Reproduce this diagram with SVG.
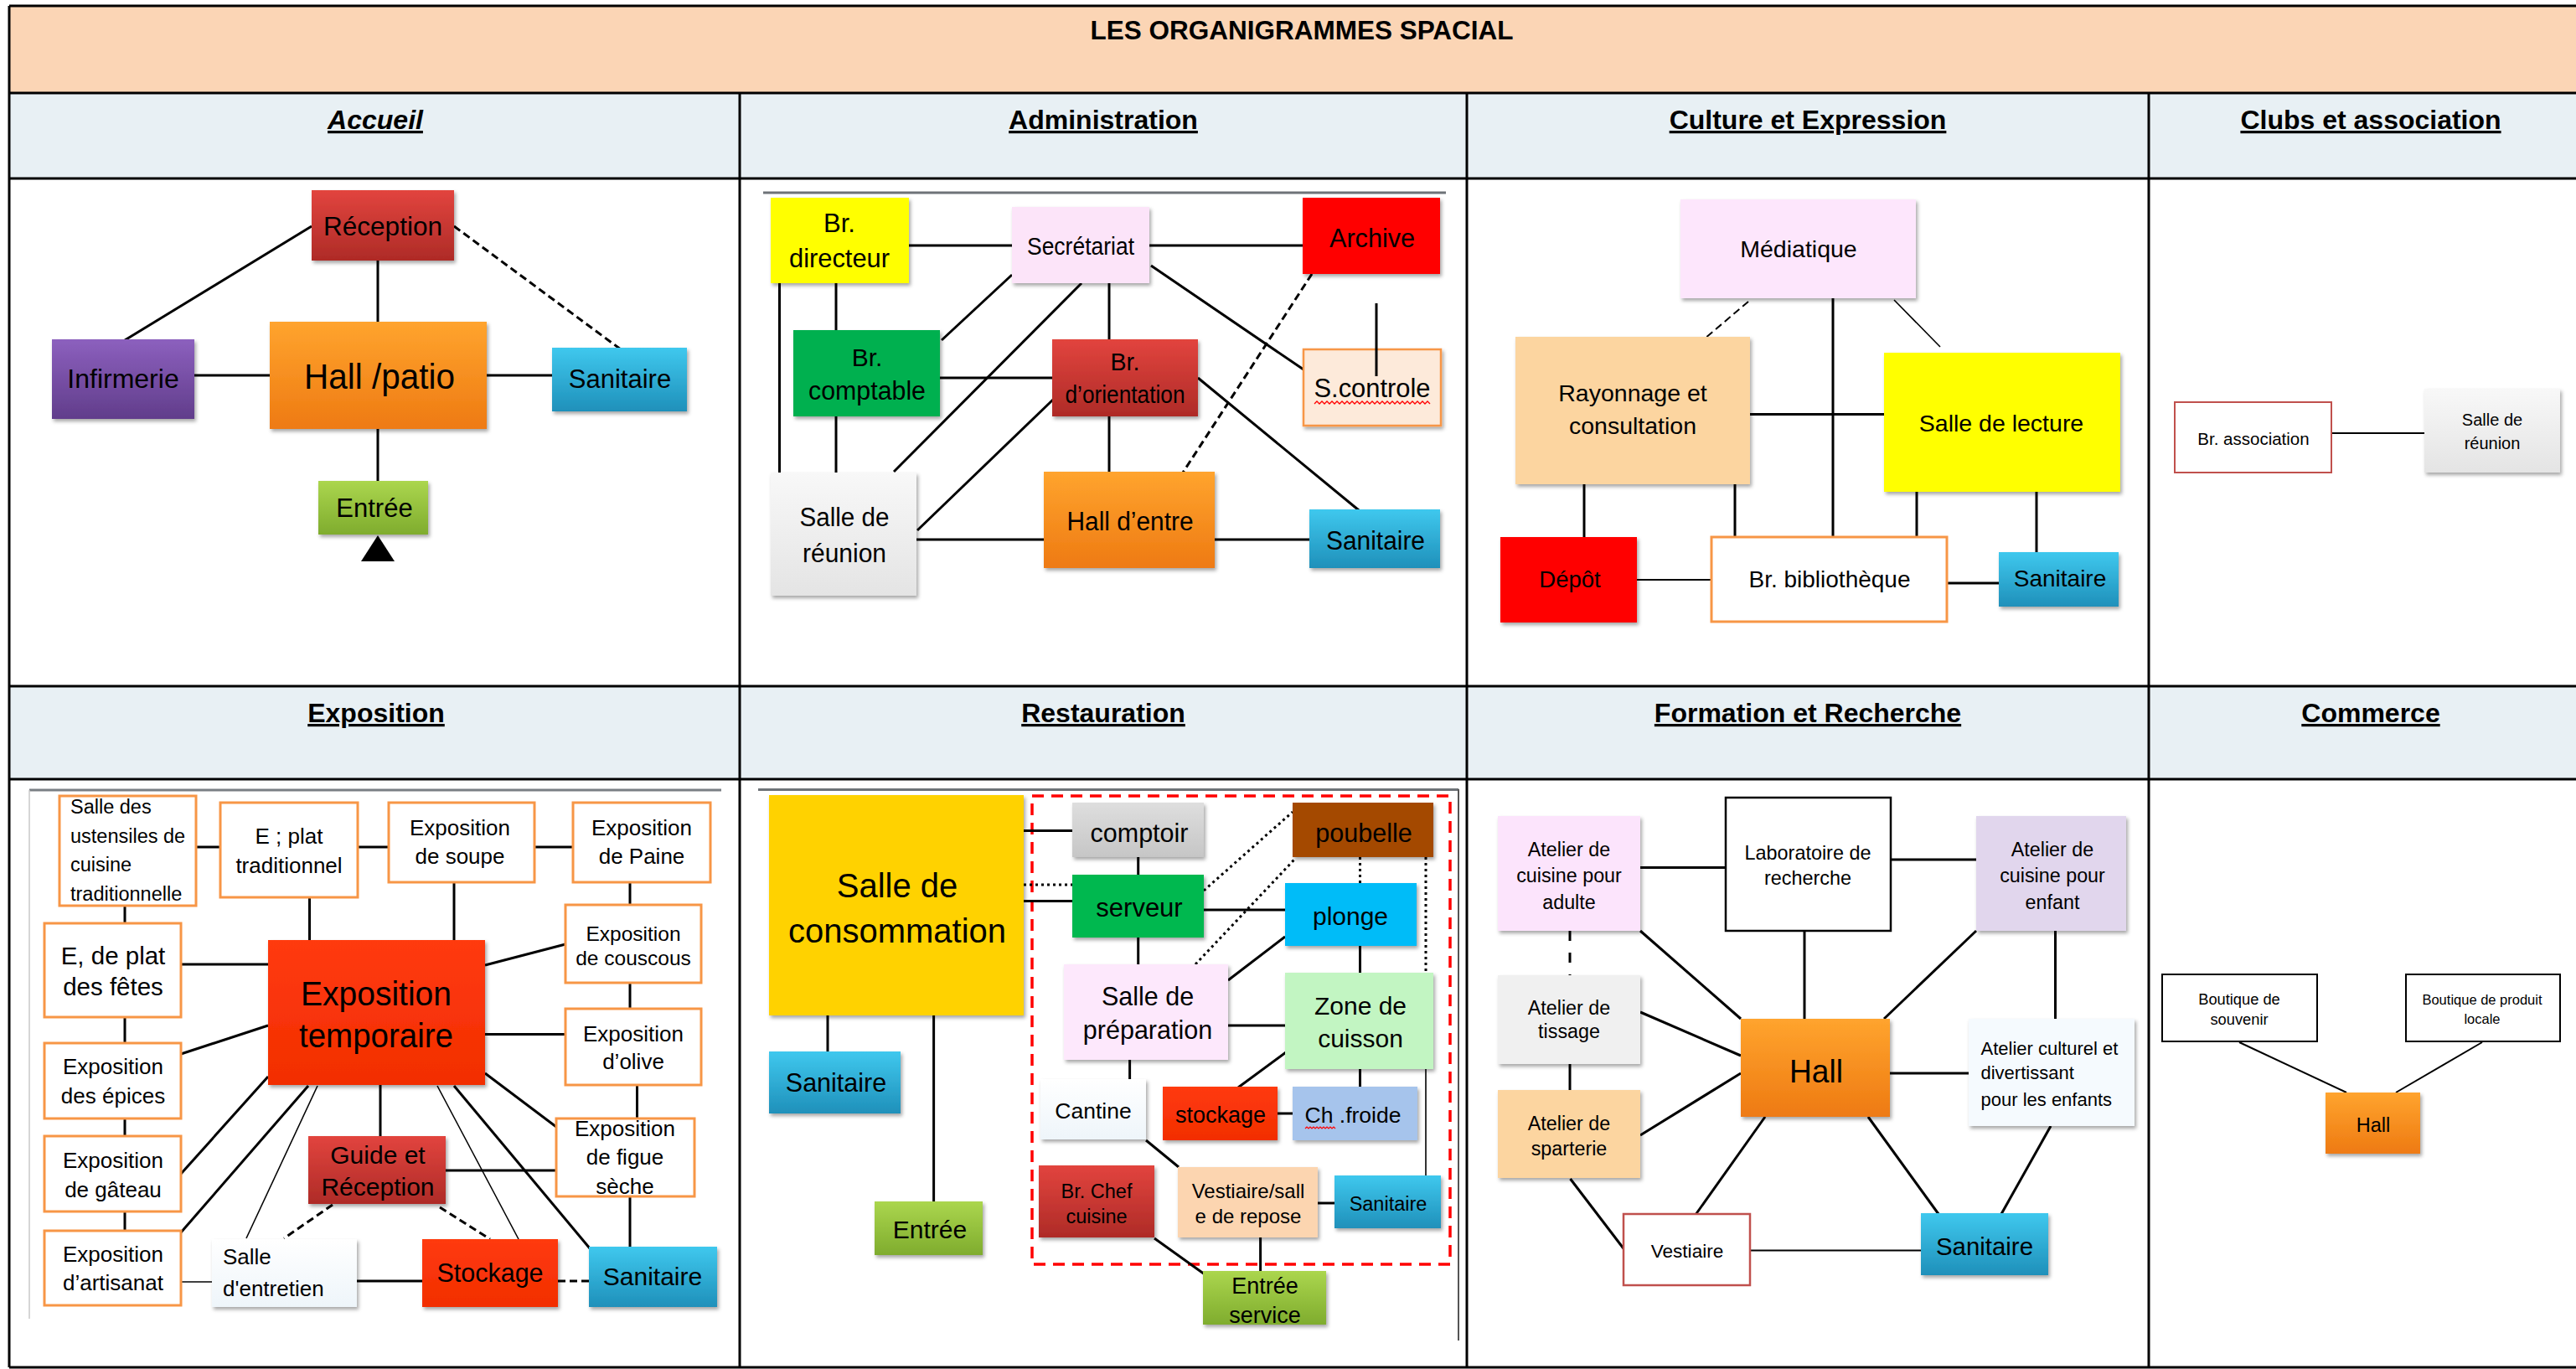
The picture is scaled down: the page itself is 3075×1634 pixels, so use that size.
<svg xmlns="http://www.w3.org/2000/svg" width="3075" height="1634" viewBox="0 0 3075 1634">
<defs>
<style>
text{font-family:'Liberation Sans',Arial,sans-serif;fill:#000;text-anchor:middle}
.hd{font-weight:bold;font-size:32px;text-decoration:underline}
.c{stroke:#000;stroke-width:3;fill:none;stroke-linecap:butt}
.th{stroke-width:1.6}
.da{stroke-dasharray:9 5}
.dt{stroke-dasharray:3 4;stroke-width:3}
.ob{fill:#fff;stroke:#F79646;stroke-width:3}
.grid{stroke:#000;stroke-width:3;fill:none}
.l{text-anchor:start}
</style>
<filter id="sh" x="-10%" y="-10%" width="125%" height="135%"><feDropShadow dx="2" dy="3" stdDeviation="2" flood-color="#000" flood-opacity="0.35"/></filter>
<linearGradient id="gRed" x1="0" y1="0" x2="0" y2="1"><stop offset="0" stop-color="#E2443E"/><stop offset="1" stop-color="#AE2B27"/></linearGradient>
<linearGradient id="gOr" x1="0" y1="0" x2="0" y2="1"><stop offset="0" stop-color="#FFA42E"/><stop offset="1" stop-color="#EE7A12"/></linearGradient>
<linearGradient id="gPu" x1="0" y1="0" x2="0" y2="1"><stop offset="0" stop-color="#8C60BE"/><stop offset="1" stop-color="#613D8B"/></linearGradient>
<linearGradient id="gBl" x1="0" y1="0" x2="0" y2="1"><stop offset="0" stop-color="#3FC8EE"/><stop offset="1" stop-color="#1F90BA"/></linearGradient>
<linearGradient id="gGr" x1="0" y1="0" x2="0" y2="1"><stop offset="0" stop-color="#ABD64E"/><stop offset="1" stop-color="#7FAC2E"/></linearGradient>
<linearGradient id="gGy" x1="0" y1="0" x2="0" y2="1"><stop offset="0" stop-color="#F8F8F8"/><stop offset="1" stop-color="#E4E4E4"/></linearGradient>
<linearGradient id="gGy2" x1="0" y1="0" x2="0" y2="1"><stop offset="0" stop-color="#DEDEDE"/><stop offset="1" stop-color="#C6C6C6"/></linearGradient>
<linearGradient id="gWh" x1="0" y1="0" x2="0" y2="1"><stop offset="0" stop-color="#FFFFFF"/><stop offset="1" stop-color="#EEF5FA"/></linearGradient>
<linearGradient id="gRd2" x1="0" y1="0" x2="0" y2="1"><stop offset="0" stop-color="#FF3A10"/><stop offset="1" stop-color="#F22E00"/></linearGradient>
</defs>

<!-- table -->
<g id="table">
<rect x="11" y="7" width="3090" height="104" fill="#FBD5B5"/>
<rect x="11" y="111" width="3090" height="102" fill="#E8F0F4"/>
<rect x="11" y="819" width="3090" height="111" fill="#E8F0F4"/>
<path class="grid" d="M11 7H3100M11 111H3100M11 213H3100M11 819H3100M11 930H3100M11 1632H3100M11 7V1632M883 111V1632M1751 111V1632M2565 111V1632"/>
<text x="1554" y="47" style="font-weight:bold;font-size:31.5px">LES ORGANIGRAMMES SPACIAL</text>
<text class="hd" x="448" y="154" style="font-style:italic">Accueil</text>
<text class="hd" x="1317" y="154">Administration</text>
<text class="hd" x="2158" y="154">Culture et Expression</text>
<text class="hd" x="2830" y="154">Clubs et association</text>
<text class="hd" x="449" y="862">Exposition</text>
<text class="hd" x="1317" y="862">Restauration</text>
<text class="hd" x="2158" y="862">Formation et Recherche</text>
<text class="hd" x="2830" y="862">Commerce</text>
</g>

<!-- connectors -->
<g id="connectors">
<!-- Accueil -->
<line class="c" x1="372" y1="270" x2="149" y2="406"/>
<line class="c" x1="451" y1="311" x2="451" y2="384"/>
<line class="c da" x1="542" y1="270" x2="741" y2="417"/>
<line class="c" x1="232" y1="448" x2="322" y2="448"/>
<line class="c" x1="581" y1="448" x2="659" y2="448"/>
<line class="c" x1="451" y1="512" x2="451" y2="574"/>
<polygon points="451,639 431,670 471,670" fill="#000"/>
<!-- Administration -->
<line x1="911" y1="230" x2="1726" y2="230" stroke="#6E7378" stroke-width="3"/>
<line class="c" x1="1085" y1="293" x2="1208" y2="293"/>
<line class="c" x1="1372" y1="293" x2="1555" y2="293"/>
<line class="c" x1="998" y1="338" x2="998" y2="394"/>
<line class="c" x1="930.5" y1="338" x2="930.5" y2="564"/>
<line class="c" x1="998" y1="497" x2="998" y2="564"/>
<line class="c" x1="1208" y1="328" x2="1124" y2="406"/>
<line class="c" x1="1291" y1="338" x2="1067" y2="563"/>
<line class="c" x1="1324" y1="338" x2="1324" y2="405"/>
<line class="c" x1="1374" y1="317" x2="1556" y2="441"/>
<line class="c" x1="1122" y1="451" x2="1256" y2="451"/>
<line class="c" x1="1257" y1="477" x2="1095" y2="633"/>
<line class="c" x1="1324" y1="497" x2="1324" y2="563"/>
<line class="c" x1="1430" y1="451" x2="1622" y2="609"/>
<line class="c da" x1="1566" y1="327" x2="1412" y2="564"/>
<line class="c" x1="1094" y1="644" x2="1246" y2="644"/>
<line class="c" x1="1450" y1="644" x2="1563" y2="644"/>
<!-- Culture -->
<line class="c da" x1="2087" y1="360" x2="2035" y2="404" style="stroke-width:2"/>
<line class="c" x1="2188" y1="356" x2="2188" y2="641"/>
<line class="c th" x1="2261" y1="358" x2="2316" y2="414"/>
<line class="c" x1="2089" y1="494.6" x2="2249" y2="494.6"/>
<line class="c" x1="1891" y1="578" x2="1891" y2="641"/>
<line class="c" x1="2071" y1="578" x2="2071" y2="641"/>
<line class="c" x1="2288" y1="587" x2="2288" y2="641"/>
<line class="c" x1="2431" y1="587" x2="2431" y2="659"/>
<line class="c" x1="1954" y1="692" x2="2043" y2="692" style="stroke-width:2"/>
<line class="c" x1="2324" y1="696" x2="2386" y2="696"/>
<!-- Clubs -->
<line class="c" x1="2783" y1="517" x2="2894" y2="517" style="stroke-width:2"/>
<!-- Exposition -->
<line x1="35" y1="943" x2="861" y2="943" stroke="#7A7F84" stroke-width="3"/>
<line x1="35" y1="943" x2="35" y2="1574" stroke="#C8C8C8" stroke-width="1.5"/>
<line class="c" x1="234" y1="1011" x2="263" y2="1011"/>
<line class="c" x1="427" y1="1011" x2="464" y2="1011"/>
<line class="c" x1="638" y1="1011" x2="684" y2="1011"/>
<line class="c" x1="369.5" y1="1071" x2="369.5" y2="1122"/>
<line class="c" x1="542" y1="1053" x2="542" y2="1122"/>
<line class="c" x1="752" y1="1053" x2="752" y2="1080"/>
<line class="c" x1="752" y1="1173" x2="752" y2="1204"/>
<line class="c" x1="760.5" y1="1295" x2="760.5" y2="1335"/>
<line class="c" x1="752" y1="1428" x2="752" y2="1488"/>
<line class="c" x1="149" y1="1081" x2="149" y2="1102"/>
<line class="c" x1="149" y1="1214" x2="149" y2="1245"/>
<line class="c" x1="149" y1="1335" x2="149" y2="1356"/>
<line class="c" x1="149" y1="1446" x2="149" y2="1469"/>
<line class="c" x1="216" y1="1151" x2="320" y2="1151"/>
<line class="c" x1="216" y1="1258" x2="320" y2="1224"/>
<line class="c" x1="216" y1="1401" x2="320" y2="1285"/>
<line class="c" x1="216" y1="1471" x2="368" y2="1296"/>
<line class="c th" x1="294" y1="1478" x2="379" y2="1296"/>
<line class="c" x1="454" y1="1295" x2="454" y2="1356"/>
<line class="c th" x1="522" y1="1296" x2="619" y2="1479"/>
<line class="c" x1="542" y1="1296" x2="704" y2="1490"/>
<line class="c" x1="579" y1="1281" x2="664" y2="1345"/>
<line class="c" x1="579" y1="1152" x2="675" y2="1127"/>
<line class="c" x1="579" y1="1234.6" x2="675" y2="1234.6"/>
<line class="c" x1="532" y1="1397" x2="664" y2="1397"/>
<line class="c da" x1="397" y1="1438" x2="339" y2="1478"/>
<line class="c da" x1="525" y1="1441" x2="585" y2="1479"/>
<line class="c th" x1="216" y1="1530" x2="253" y2="1530"/>
<line class="c" x1="426" y1="1529" x2="504" y2="1529"/>
<line class="c da" x1="666" y1="1529" x2="703" y2="1529"/>
<!-- Restauration -->
<line x1="905" y1="942.5" x2="1741" y2="942.5" stroke="#6E7378" stroke-width="3"/>
<line x1="1741" y1="942" x2="1741" y2="1600" stroke="#555" stroke-width="2"/>
<rect x="1232" y="950" width="499" height="559" fill="none" stroke="#FF0000" stroke-width="3.5" stroke-dasharray="14 9"/>
<line class="c" x1="1222" y1="991.5" x2="1280" y2="991.5"/>
<line class="c dt" x1="1222" y1="1056" x2="1280" y2="1056"/>
<line class="c" x1="1222" y1="1075.5" x2="1280" y2="1075.5"/>
<line class="c" x1="1358.7" y1="1023" x2="1358.7" y2="1044"/>
<line class="c" x1="1437" y1="1086" x2="1534" y2="1086"/>
<line class="c dt" x1="1437" y1="1063" x2="1543" y2="969"/>
<line class="c dt" x1="1427" y1="1151" x2="1545" y2="1026"/>
<line class="c" x1="1358.7" y1="1119" x2="1358.7" y2="1151"/>
<line class="c dt" x1="1623.5" y1="1023" x2="1623.5" y2="1054"/>
<line class="c dt" x1="1702" y1="1023" x2="1702" y2="1161"/>
<line class="c" x1="1466" y1="1170" x2="1534" y2="1118"/>
<line class="c" x1="1623.5" y1="1129" x2="1623.5" y2="1161"/>
<line class="c" x1="1466" y1="1224" x2="1534" y2="1224"/>
<line class="c" x1="1535" y1="1256" x2="1478" y2="1298"/>
<line class="c" x1="1623.5" y1="1276" x2="1623.5" y2="1297"/>
<line class="c" x1="1525" y1="1329" x2="1543" y2="1329"/>
<line class="c" x1="1348.6" y1="1265" x2="1348.6" y2="1288"/>
<line class="c th" x1="1702" y1="1276" x2="1702" y2="1403"/>
<line class="c" x1="1368" y1="1361" x2="1407" y2="1393"/>
<line class="c" x1="1573" y1="1436" x2="1593" y2="1436"/>
<line class="c" x1="1504.6" y1="1477" x2="1504.6" y2="1517"/>
<line class="c" x1="1378" y1="1478" x2="1438" y2="1521"/>
<line class="c" x1="988" y1="1212" x2="988" y2="1255"/>
<line class="c" x1="1114.6" y1="1212" x2="1114.6" y2="1434"/>
<!-- Formation -->
<line class="c" x1="1958" y1="1035.6" x2="2060" y2="1035.6"/>
<line class="c" x1="2257" y1="1026" x2="2359" y2="1026"/>
<line class="c" x1="2154" y1="1111" x2="2154" y2="1216"/>
<line class="c" x1="1958" y1="1111" x2="2078" y2="1216"/>
<line class="c" x1="2359" y1="1111" x2="2249" y2="1216"/>
<line class="c" x1="2453.5" y1="1111" x2="2453.5" y2="1216"/>
<line class="c da" x1="1874" y1="1111" x2="1874" y2="1164" style="stroke-dasharray:12 14"/>
<line class="c" x1="1874" y1="1270" x2="1874" y2="1301"/>
<line class="c" x1="1958" y1="1208" x2="2078" y2="1260"/>
<line class="c" x1="1958" y1="1355" x2="2078" y2="1281"/>
<line class="c" x1="2256" y1="1281" x2="2350" y2="1281"/>
<line class="c" x1="1874.5" y1="1407" x2="1939" y2="1491.5"/>
<line class="c" x1="2107" y1="1333" x2="2024.6" y2="1449"/>
<line class="c" x1="2230" y1="1333" x2="2314" y2="1449"/>
<line class="c" x1="2448" y1="1344" x2="2389" y2="1449"/>
<line class="c" x1="2089" y1="1492.5" x2="2293" y2="1492.5" style="stroke-width:2"/>
<!-- Commerce -->
<line class="c" x1="2673" y1="1244" x2="2801" y2="1304" style="stroke-width:2"/>
<line class="c" x1="2963" y1="1244" x2="2860" y2="1304" style="stroke-width:2"/>
</g>

<!-- Accueil nodes -->
<g id="acc-reception"><rect x="372" y="227" width="170" height="84" fill="url(#gRed)" filter="url(#sh)"/><text x="457" y="281" font-size="32" textLength="142" lengthAdjust="spacingAndGlyphs">Réception</text></g>
<g id="acc-hall"><rect x="322" y="384" width="259" height="128" fill="url(#gOr)" filter="url(#sh)"/><text x="453" y="464" font-size="42" textLength="180" lengthAdjust="spacingAndGlyphs">Hall /patio</text></g>
<g id="acc-infirmerie"><rect x="62" y="405" width="170" height="95" fill="url(#gPu)" filter="url(#sh)"/><text x="147" y="463" font-size="32">Infirmerie</text></g>
<g id="acc-sanitaire"><rect x="659" y="415" width="161" height="76" fill="url(#gBl)" filter="url(#sh)"/><text x="740" y="463" font-size="31">Sanitaire</text></g>
<g id="acc-entree"><rect x="380" y="574" width="131" height="64" fill="url(#gGr)" filter="url(#sh)"/><text x="447" y="617" font-size="31">Entrée</text></g>

<!-- Administration nodes -->
<g id="adm-directeur"><rect x="920" y="236" width="165" height="102" fill="#FFFF00" filter="url(#sh)"/><text x="1002" y="277" font-size="31">Br.</text><text x="1002" y="318.6" font-size="32" textLength="120" lengthAdjust="spacingAndGlyphs">directeur</text></g>
<g id="adm-secretariat"><rect x="1208" y="247" width="164" height="91" fill="#FCE4F9" filter="url(#sh)"/><text x="1290" y="303.6" font-size="30" textLength="128" lengthAdjust="spacingAndGlyphs">Secrétariat</text></g>
<g id="adm-archive"><rect x="1555" y="236" width="164" height="91" fill="#FF0000" filter="url(#sh)"/><text x="1638" y="295" font-size="31" textLength="102" lengthAdjust="spacingAndGlyphs">Archive</text></g>
<g id="adm-comptable"><rect x="947" y="394" width="175" height="103" fill="#00B050" filter="url(#sh)"/><text x="1035" y="436.5" font-size="30">Br.</text><text x="1035" y="477" font-size="31" textLength="140" lengthAdjust="spacingAndGlyphs">comptable</text></g>
<g id="adm-orientation"><rect x="1256" y="405" width="174" height="92" fill="url(#gRed)" filter="url(#sh)"/><text x="1343" y="442" font-size="29" textLength="35" lengthAdjust="spacingAndGlyphs">Br.</text><text x="1343" y="481" font-size="29" textLength="143" lengthAdjust="spacingAndGlyphs">d’orientation</text></g>
<g id="adm-controle"><rect x="1556" y="417" width="164" height="91" fill="#FDEADA" stroke="#F79646" stroke-width="2.5" filter="url(#sh)"/><text x="1638" y="473.6" font-size="31" textLength="139" lengthAdjust="spacingAndGlyphs">S.controle</text><path d="M1569 482 l3 -3 l3 3 l3 -3 l3 3 l3 -3 l3 3 l3 -3 l3 3 l3 -3 l3 3 l3 -3 l3 3 l3 -3 l3 3 l3 -3 l3 3 l3 -3 l3 3 l3 -3 l3 3 l3 -3 l3 3 l3 -3 l3 3 l3 -3 l3 3 l3 -3 l3 3 l3 -3 l3 3 l3 -3 l3 3 l3 -3 l3 3 l3 -3 l3 3 l3 -3 l3 3 l3 -3 l3 3 l3 -3 l3 3 l3 -3 l3 3 l3 -3 l3 3" fill="none" stroke="#FF0000" stroke-width="1.3"/><line x1="1643" y1="362" x2="1643" y2="449" stroke="#000" stroke-width="3"/></g>
<g id="adm-reunion"><rect x="920" y="564" width="174" height="147" fill="url(#gGy)" filter="url(#sh)"/><text x="1008" y="628" font-size="31" textLength="107" lengthAdjust="spacingAndGlyphs">Salle de</text><text x="1008" y="670.5" font-size="31" textLength="100" lengthAdjust="spacingAndGlyphs">réunion</text></g>
<g id="adm-hall"><rect x="1246" y="563" width="204" height="115" fill="url(#gOr)" filter="url(#sh)"/><text x="1349" y="633" font-size="31" textLength="151" lengthAdjust="spacingAndGlyphs">Hall d’entre</text></g>
<g id="adm-sanitaire"><rect x="1563" y="608" width="156" height="70" fill="url(#gBl)" filter="url(#sh)"/><text x="1642" y="655.5" font-size="31" textLength="118" lengthAdjust="spacingAndGlyphs">Sanitaire</text></g>

<!-- Culture nodes -->
<g id="cul-mediatique"><rect x="2006" y="238" width="281" height="118" fill="#FDE6FC" filter="url(#sh)"/><text x="2147" y="307" font-size="28.5">Médiatique</text></g>
<g id="cul-rayonnage"><rect x="1809" y="402" width="280" height="176" fill="#FCD5A0" filter="url(#sh)"/><text x="1949" y="479" font-size="28.5">Rayonnage et</text><text x="1949" y="518" font-size="28.5">consultation</text></g>
<g id="cul-lecture"><rect x="2249" y="421" width="282" height="166" fill="#FFFF00" filter="url(#sh)"/><text x="2389" y="515" font-size="28.5">Salle de lecture</text></g>
<g id="cul-depot"><rect x="1791" y="641" width="163" height="102" fill="#FF0000" filter="url(#sh)"/><text x="1874" y="701" font-size="27.5">Dépôt</text></g>
<g id="cul-bibliotheque"><rect x="2043" y="641" width="281" height="101" fill="#fff" stroke="#F79646" stroke-width="3"/><text x="2184" y="701" font-size="28">Br. bibliothèque</text></g>
<g id="cul-sanitaire"><rect x="2386" y="659" width="143" height="65" fill="url(#gBl)" filter="url(#sh)"/><text x="2459" y="700" font-size="28">Sanitaire</text></g>

<!-- Clubs nodes -->
<g id="clu-association"><rect x="2596" y="480" width="187" height="84" fill="#fff" stroke="#C0504D" stroke-width="2"/><text x="2690" y="531" font-size="20.5">Br. association</text></g>
<g id="clu-reunion"><rect x="2894" y="464" width="162" height="100" fill="url(#gGy)" filter="url(#sh)"/><text x="2975" y="508.4" font-size="20">Salle de</text><text x="2975" y="536" font-size="20">réunion</text></g>

<!-- Exposition nodes -->
<g id="exp-ustensiles"><rect class="ob" x="71" y="950" width="163" height="131"/><text class="l" x="84" y="971" font-size="23.5">Salle des</text><text class="l" x="84" y="1006" font-size="23.5">ustensiles de</text><text class="l" x="84" y="1040" font-size="23.5">cuisine</text><text class="l" x="84" y="1075" font-size="23.5">traditionnelle</text></g>
<g id="exp-plattrad"><rect class="ob" x="263" y="958" width="164" height="113"/><text x="345" y="1007" font-size="26">E ; plat</text><text x="345" y="1042" font-size="26">traditionnel</text></g>
<g id="exp-soupe"><rect class="ob" x="464" y="958" width="174" height="95"/><text x="549" y="997" font-size="26">Exposition</text><text x="549" y="1031" font-size="26">de soupe</text></g>
<g id="exp-paine"><rect class="ob" x="684" y="958" width="164" height="95"/><text x="766" y="997" font-size="26">Exposition</text><text x="766" y="1031" font-size="26">de Paine</text></g>
<g id="exp-couscous"><rect class="ob" x="675" y="1080" width="162" height="93"/><text x="756" y="1123" font-size="24.5">Exposition</text><text x="756" y="1152" font-size="24.5">de couscous</text></g>
<g id="exp-fetes"><rect class="ob" x="53" y="1102" width="163" height="112"/><text x="135" y="1151" font-size="29.5">E, de plat</text><text x="135" y="1188" font-size="29.5">des fêtes</text></g>
<g id="exp-temporaire"><rect x="320" y="1122" width="259" height="173" fill="url(#gRd2)" filter="url(#sh)"/><text x="449" y="1200" font-size="40" textLength="180" lengthAdjust="spacingAndGlyphs">Exposition</text><text x="449" y="1249.5" font-size="40" textLength="184" lengthAdjust="spacingAndGlyphs">temporaire</text></g>
<g id="exp-olive"><rect class="ob" x="675" y="1204" width="162" height="91"/><text x="756" y="1242.5" font-size="26">Exposition</text><text x="756" y="1276" font-size="26">d’olive</text></g>
<g id="exp-epices"><rect class="ob" x="53" y="1245" width="163" height="90"/><text x="135" y="1282" font-size="26">Exposition</text><text x="135" y="1317" font-size="26">des épices</text></g>
<g id="exp-gateau"><rect class="ob" x="53" y="1356" width="163" height="90"/><text x="135" y="1394" font-size="26">Exposition</text><text x="135" y="1429" font-size="26">de gâteau</text></g>
<g id="exp-artisanat"><rect class="ob" x="53" y="1469" width="163" height="89"/><text x="135" y="1506" font-size="26">Exposition</text><text x="135" y="1540" font-size="26">d’artisanat</text></g>
<g id="exp-figue"><rect class="ob" x="664" y="1335" width="165" height="93"/><text x="746" y="1356" font-size="26">Exposition</text><text x="746" y="1390" font-size="26">de figue</text><text x="746" y="1425" font-size="26">sèche</text></g>
<g id="exp-guide"><rect x="368" y="1356" width="164" height="81" fill="url(#gRed)" filter="url(#sh)"/><text x="451" y="1389" font-size="30">Guide et</text><text x="451" y="1426.6" font-size="30">Réception</text></g>
<g id="exp-entretien"><rect x="253" y="1479" width="173" height="81" fill="url(#gWh)" filter="url(#sh)"/><text class="l" x="266" y="1508.5" font-size="26">Salle</text><text class="l" x="266" y="1547" font-size="26">d'entretien</text></g>
<g id="exp-stockage"><rect x="504" y="1479" width="162" height="81" fill="url(#gRd2)" filter="url(#sh)"/><text x="585" y="1530" font-size="30.5">Stockage</text></g>
<g id="exp-sanitaire"><rect x="703" y="1488" width="153" height="72" fill="url(#gBl)" filter="url(#sh)"/><text x="779" y="1534" font-size="30">Sanitaire</text></g>

<!-- Restauration nodes -->
<g id="res-consommation"><rect x="918" y="949" width="304" height="263" fill="#FFD200" filter="url(#sh)"/><text x="1071" y="1071" font-size="40">Salle de</text><text x="1071" y="1124.5" font-size="40">consommation</text></g>
<g id="res-sanitaire1"><rect x="918" y="1255" width="157" height="74" fill="url(#gBl)" filter="url(#sh)"/><text x="998" y="1302.7" font-size="30.5">Sanitaire</text></g>
<g id="res-entree"><rect x="1044" y="1434" width="129" height="64" fill="url(#gGr)" filter="url(#sh)"/><text x="1110" y="1478" font-size="30">Entrée</text></g>
<g id="res-comptoir"><rect x="1280" y="958" width="157" height="65" fill="url(#gGy2)" filter="url(#sh)"/><text x="1360" y="1005" font-size="30.5">comptoir</text></g>
<g id="res-serveur"><rect x="1280" y="1044" width="157" height="75" fill="#00B850" filter="url(#sh)"/><text x="1360" y="1093.6" font-size="31">serveur</text></g>
<g id="res-poubelle"><rect x="1543" y="958" width="168" height="65" fill="#A44A00" filter="url(#sh)"/><text x="1628" y="1005" font-size="30.5">poubelle</text></g>
<g id="res-plonge"><rect x="1534" y="1054" width="157" height="75" fill="#00BCF8" filter="url(#sh)"/><text x="1612" y="1104" font-size="30">plonge</text></g>
<g id="res-preparation"><rect x="1270" y="1151" width="196" height="114" fill="#FDE8FC" filter="url(#sh)"/><text x="1370" y="1200" font-size="30.5">Salle de</text><text x="1370" y="1240" font-size="30.5">préparation</text></g>
<g id="res-cuisson"><rect x="1534" y="1161" width="177" height="115" fill="#C2F5C2" filter="url(#sh)"/><text x="1624" y="1210.6" font-size="30">Zone de</text><text x="1624" y="1249.5" font-size="30">cuisson</text></g>
<g id="res-cantine"><rect x="1242" y="1288" width="126" height="72" fill="url(#gWh)" filter="url(#sh)"/><text x="1305" y="1334.6" font-size="26.5">Cantine</text></g>
<g id="res-stockage"><rect x="1388" y="1297" width="137" height="64" fill="url(#gRd2)" filter="url(#sh)"/><text x="1457" y="1340" font-size="27">stockage</text></g>
<g id="res-froide"><rect x="1543" y="1297" width="149" height="64" fill="#A6C4EC" filter="url(#sh)"/><text x="1615" y="1340" font-size="26.5">Ch .froide</text><path d="M1558 1347 l2 -2 l2 2 l2 -2 l2 2 l2 -2 l2 2 l2 -2 l2 2 l2 -2 l2 2 l2 -2 l2 2 l2 -2 l2 2 l2 -2 l2 2 l2 -2 l2 2" fill="none" stroke="#FF0000" stroke-width="1.2"/></g>
<g id="res-chef"><rect x="1240" y="1391" width="138" height="86" fill="url(#gRed)" filter="url(#sh)"/><text x="1309" y="1430" font-size="23.5">Br. Chef</text><text x="1309" y="1459.6" font-size="23.5">cuisine</text></g>
<g id="res-vestiaire"><rect x="1406" y="1393" width="167" height="84" fill="#FCD5B0" filter="url(#sh)"/><text x="1490" y="1430" font-size="24">Vestiaire/sall</text><text x="1490" y="1459.6" font-size="24">e de repose</text></g>
<g id="res-sanitaire2"><rect x="1593" y="1403" width="127" height="63" fill="url(#gBl)" filter="url(#sh)"/><text x="1657" y="1445" font-size="23.5">Sanitaire</text></g>
<g id="res-service"><rect x="1436" y="1517" width="147" height="64" fill="url(#gGr)" filter="url(#sh)"/><text x="1510" y="1543.6" font-size="27">Entrée</text><text x="1510" y="1579" font-size="27">service</text></g>

<!-- Formation nodes -->
<g id="for-adulte"><rect x="1788" y="974" width="170" height="137" fill="#FCE4FC" filter="url(#sh)"/><text x="1873" y="1022" font-size="23.3">Atelier de</text><text x="1873" y="1052.6" font-size="23.3">cuisine pour</text><text x="1873" y="1084.6" font-size="23.3">adulte</text></g>
<g id="for-labo"><rect x="2060" y="952" width="197" height="159" fill="#fff" stroke="#000" stroke-width="2.5"/><text x="2158" y="1026" font-size="23.4">Laboratoire de</text><text x="2158" y="1056" font-size="23.4">recherche</text></g>
<g id="for-enfant"><rect x="2359" y="974" width="179" height="137" fill="#E1D6ED" filter="url(#sh)"/><text x="2450" y="1022" font-size="23.3">Atelier de</text><text x="2450" y="1052.6" font-size="23.3">cuisine pour</text><text x="2450" y="1084.6" font-size="23.3">enfant</text></g>
<g id="for-tissage"><rect x="1788" y="1164" width="170" height="106" fill="#F0F0F0" filter="url(#sh)"/><text x="1873" y="1210.6" font-size="23.3">Atelier de</text><text x="1873" y="1239" font-size="23.3">tissage</text></g>
<g id="for-sparterie"><rect x="1788" y="1301" width="170" height="105" fill="#FCD5A0" filter="url(#sh)"/><text x="1873" y="1349" font-size="23.3">Atelier de</text><text x="1873" y="1378.7" font-size="23.3">sparterie</text></g>
<g id="for-hall"><rect x="2078" y="1216" width="178" height="117" fill="url(#gOr)" filter="url(#sh)"/><text x="2168" y="1292" font-size="39" textLength="64" lengthAdjust="spacingAndGlyphs">Hall</text></g>
<g id="for-culturel"><rect x="2350" y="1216" width="198" height="128" fill="#F5FAFE" filter="url(#sh)"/><text class="l" x="2364.5" y="1258.5" font-size="22">Atelier culturel et</text><text class="l" x="2364.5" y="1288" font-size="22">divertissant</text><text class="l" x="2364.5" y="1320" font-size="22">pour les enfants</text></g>
<g id="for-vestiaire"><rect x="1938" y="1449" width="151" height="85" fill="#fff" stroke="#C0504D" stroke-width="2.5"/><text x="2014" y="1501" font-size="22.6">Vestiaire</text></g>
<g id="for-sanitaire"><rect x="2293" y="1448" width="152" height="74" fill="url(#gBl)" filter="url(#sh)"/><text x="2369" y="1498" font-size="29.4">Sanitaire</text></g>

<!-- Commerce nodes -->
<g id="com-souvenir"><rect x="2581" y="1163" width="185" height="80" fill="#fff" stroke="#000" stroke-width="2"/><text x="2673" y="1199" font-size="18.3">Boutique de</text><text x="2673" y="1223" font-size="18.3">souvenir</text></g>
<g id="com-produit"><rect x="2872" y="1163" width="184" height="80" fill="#fff" stroke="#000" stroke-width="2"/><text x="2963" y="1199" font-size="16.5">Boutique de produit</text><text x="2963" y="1222" font-size="16.5">locale</text></g>
<g id="com-hall"><rect x="2776" y="1304" width="113" height="73" fill="url(#gOr)" filter="url(#sh)"/><text x="2833" y="1350.5" font-size="23.5">Hall</text></g>
</svg>
